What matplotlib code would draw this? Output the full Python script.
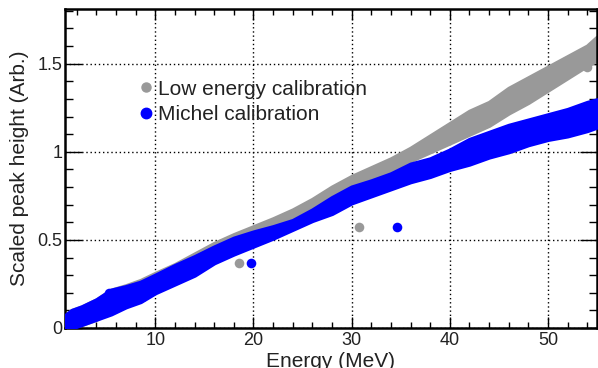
import matplotlib
matplotlib.use("Agg")
import matplotlib.pyplot as plt
from matplotlib.ticker import MultipleLocator
from matplotlib.lines import Line2D

plt.rcParams['font.family'] = ['Liberation Sans', 'DejaVu Sans']

# band edges (energy in MeV, scaled peak height)
energy = [0.8, 1.5, 2.5, 4, 5.5, 7, 8.5, 10, 12, 14, 16, 18, 20, 22, 24, 26,
          28, 30, 32, 34, 36, 38, 40, 42, 44, 46, 48, 50, 52, 54, 55]

michel_lo = [0.0, 0.0, 0.02, 0.05, 0.08, 0.12, 0.15, 0.20, 0.25, 0.30, 0.37, 0.42,
             0.465, 0.51, 0.56, 0.61, 0.65, 0.71, 0.75, 0.79, 0.83, 0.86, 0.90,
             0.93, 0.97, 1.00, 1.04, 1.07, 1.09, 1.12, 1.14]
michel_hi = [0.07, 0.10, 0.12, 0.16, 0.215, 0.235, 0.26, 0.30, 0.355, 0.405, 0.46,
             0.51, 0.545, 0.575, 0.61, 0.67, 0.74, 0.80, 0.835, 0.875, 0.93, 0.96,
             1.01, 1.07, 1.11, 1.15, 1.18, 1.21, 1.24, 1.28, 1.295]

lowe_lo = [0.0, 0.0, 0.02, 0.05, 0.10, 0.14, 0.17, 0.22, 0.27, 0.33, 0.40, 0.45,
           0.50, 0.54, 0.59, 0.66, 0.72, 0.79, 0.84, 0.88, 0.95, 1.00, 1.05,
           1.10, 1.15, 1.22, 1.28, 1.35, 1.42, 1.49, 1.52]
lowe_hi = [0.07, 0.10, 0.12, 0.16, 0.215, 0.24, 0.27, 0.31, 0.36, 0.42, 0.48,
           0.53, 0.575, 0.62, 0.67, 0.73, 0.80, 0.86, 0.91, 0.96, 1.02, 1.09,
           1.16, 1.23, 1.28, 1.36, 1.42, 1.48, 1.54, 1.60, 1.65]

# isolated points
lowe_out_x = [18.5, 30.8, 46.3, 54.0]
lowe_out_y = [0.37, 0.575, 1.02, 1.48]
michel_out_x = [19.7, 34.6, 8.6, 5.3]
michel_out_y = [0.37, 0.575, 0.175, 0.2]

gray = '#999999'
blue = '#0000ff'

fig = plt.figure(figsize=(5.98, 3.68), dpi=100)
ax = fig.add_axes([65/598, 1-328/368, 532/598, 319/368])

ax.fill_between(energy, lowe_lo, lowe_hi, color=gray, lw=3, edgecolor=gray,
                joinstyle='round', zorder=2)
ax.scatter(lowe_out_x, lowe_out_y, s=48, color=gray, lw=0, zorder=2)
ax.fill_between(energy, michel_lo, michel_hi, color=blue, lw=3, edgecolor=blue,
                joinstyle='round', zorder=3)
ax.scatter(michel_out_x, michel_out_y, s=48, color=blue, lw=0, zorder=3)

ax.set_xlim(0.8, 55)
ax.set_ylim(0, 1.81)
ax.xaxis.set_major_locator(MultipleLocator(10))
ax.xaxis.set_minor_locator(MultipleLocator(2))
ax.yaxis.set_minor_locator(MultipleLocator(0.1))
ax.set_yticks([0, 0.5, 1, 1.5])
ax.set_yticklabels(['0', '0.5', '1', '1.5'])

ax.grid(True, which='major', ls=(0, (1, 2)), color='black', lw=1, zorder=1)
ax.set_axisbelow(True)

ax.tick_params(axis='both', which='both', direction='in', top=True, right=True,
               width=1, labelsize=13, color='black', labelcolor='#222222')
ax.tick_params(axis='y', which='major', length=12, pad=2)
ax.tick_params(axis='y', which='minor', length=6)
ax.tick_params(axis='x', which='major', length=8, pad=3)
ax.tick_params(axis='x', which='minor', length=4.5)
for s in ax.spines.values():
    s.set_linewidth(1.8)

ax.set_xlabel('Energy (MeV)', fontsize=15, color='#222222')
ax.set_ylabel('Scaled peak height (Arb.)', fontsize=15, color='#222222')
ax.xaxis.set_label_coords(0.5, -0.074)
ax.yaxis.set_label_coords(-0.068, 0.5)

handles = [Line2D([], [], ls='none', marker='o', ms=6.5, color=gray),
           Line2D([], [], ls='none', marker='o', ms=7.5, color=blue)]
leg = ax.legend(handles, ['Low energy calibration', 'Michel calibration'],
                loc='upper left', bbox_to_anchor=(0.125, 0.805), frameon=False,
                fontsize=15, handlelength=0.6, handletextpad=0.25,
                labelspacing=0.32, borderaxespad=0)
for t in leg.get_texts():
    t.set_color('#222222')

fig.savefig('out.png', dpi=100)
